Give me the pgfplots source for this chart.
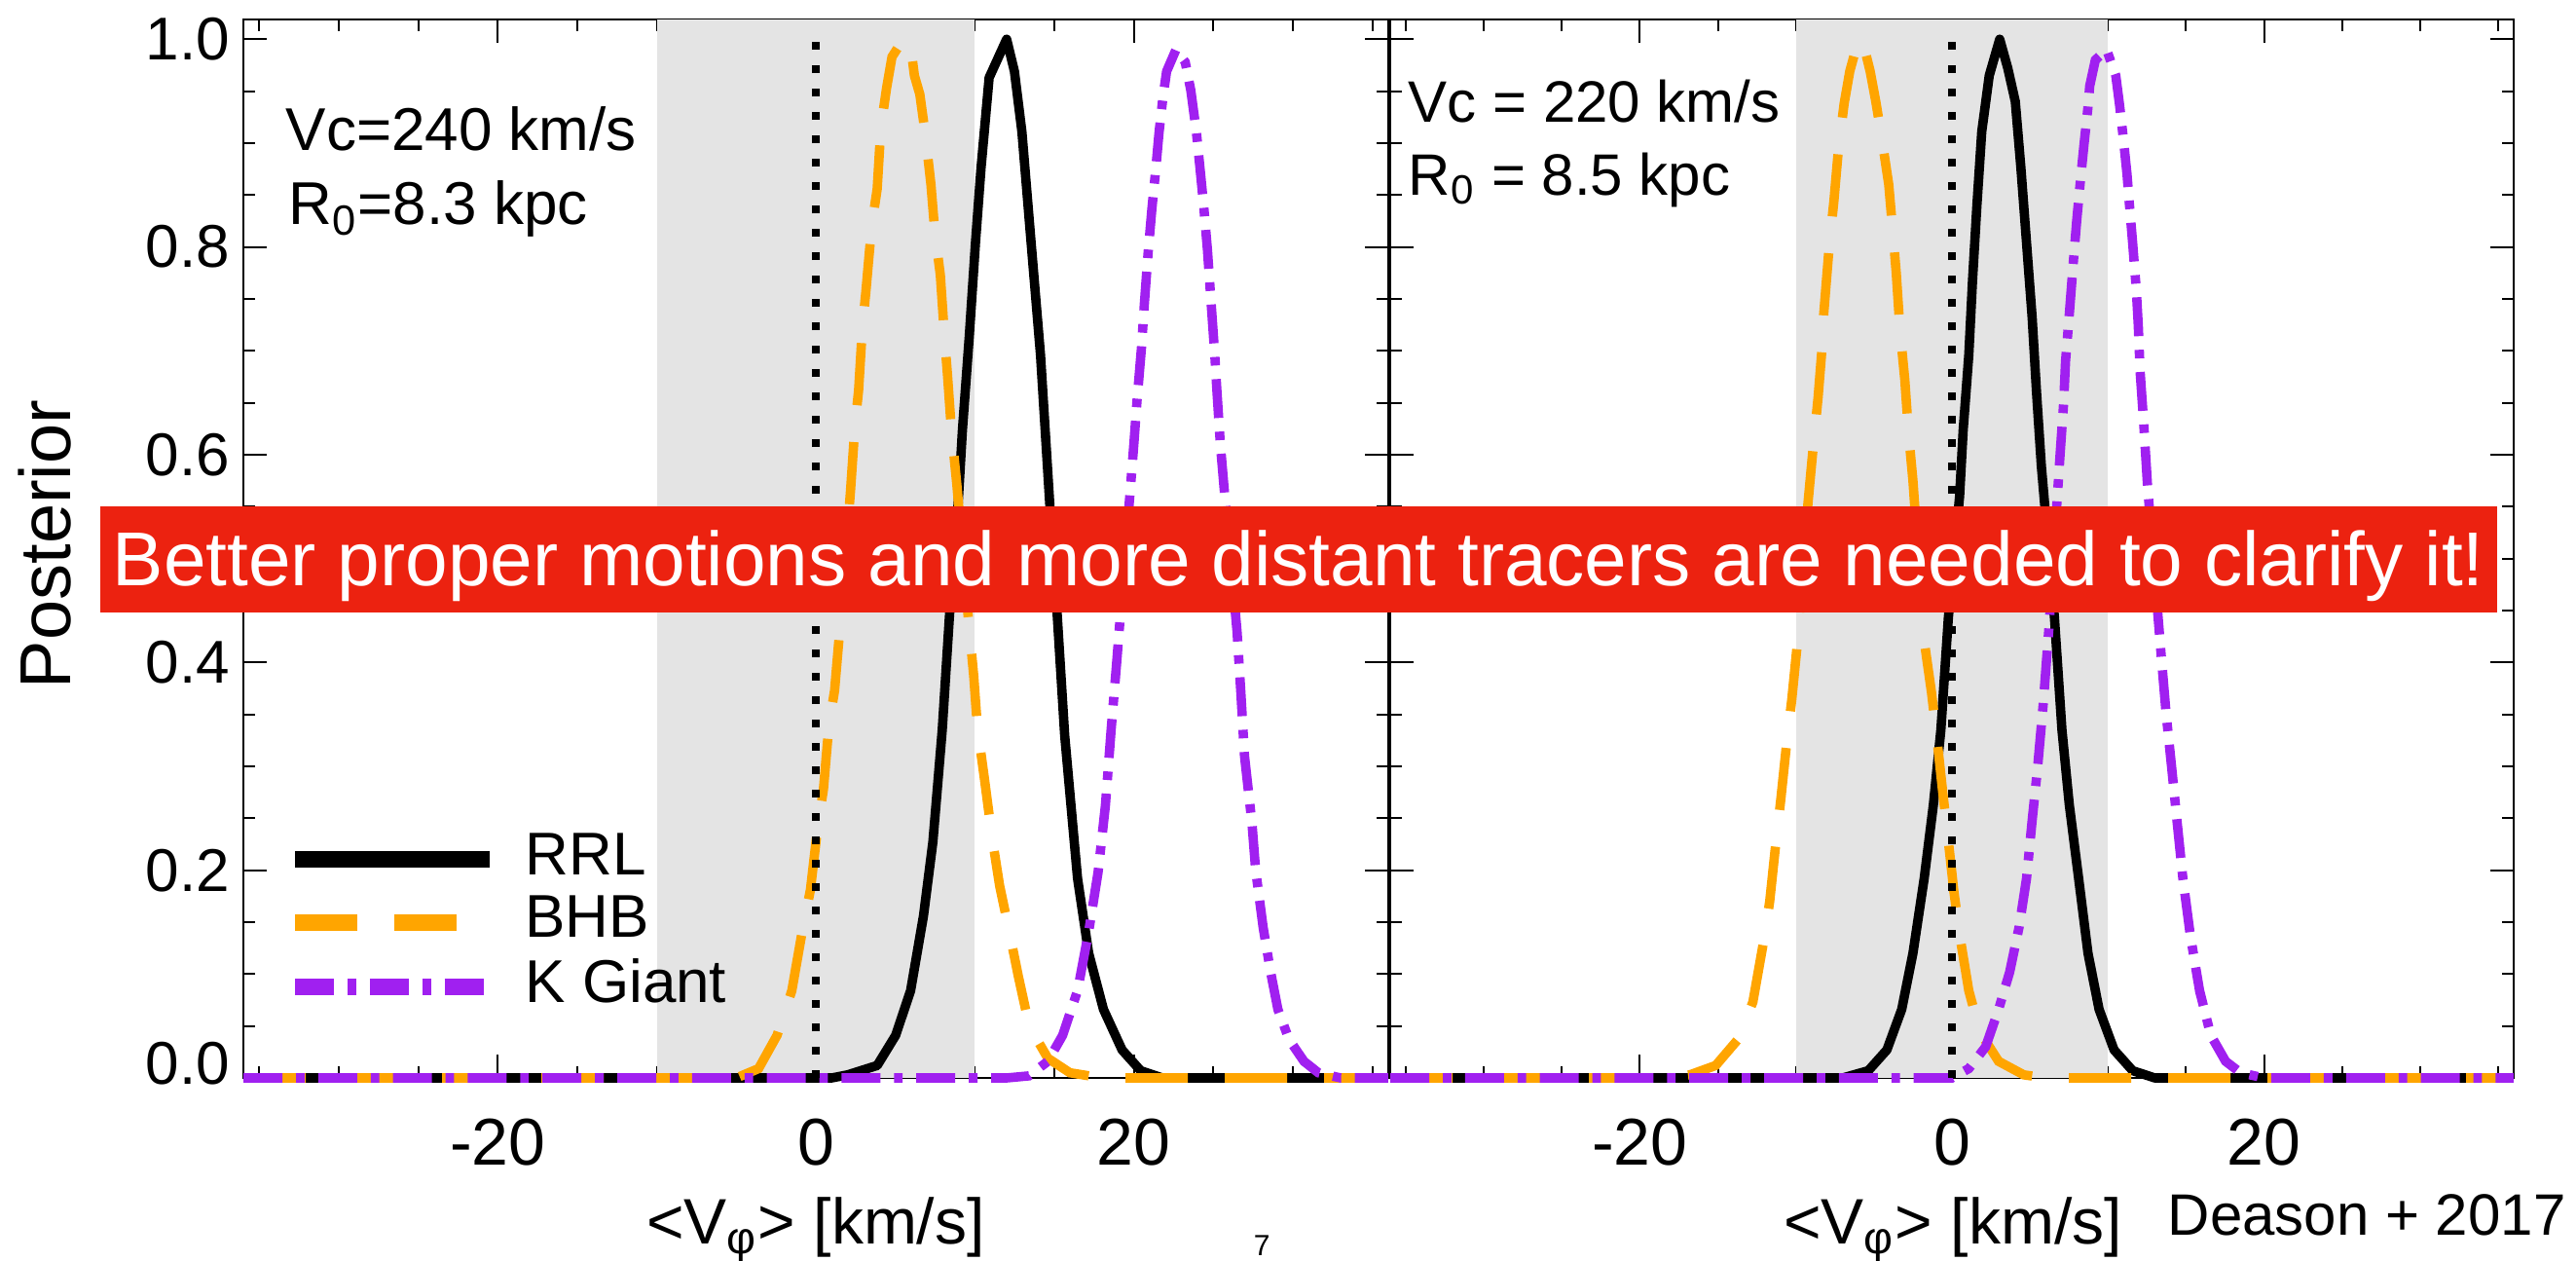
\documentclass[border=0pt]{standalone}
\usepackage{fontspec}
\setmainfont{Liberation Sans}
\usepackage{graphicx}
\usepackage{pgfplots}
\pgfplotsset{compat=1.18}
\definecolor{bhb}{RGB}{255,165,0}
\definecolor{kg}{RGB}{160,32,240}
\definecolor{band}{RGB}{228,228,228}
\definecolor{banner}{RGB}{236,34,16}

\pgfplotstableread{
v p
-36 0
1.0 0
2.0 0.003
3.86 0.012
5.02 0.041
5.96 0.084
6.77 0.156
7.36 0.227
7.95 0.335
8.41 0.446
8.95 0.553
9.22 0.624
9.65 0.714
10.04 0.804
10.39 0.876
10.9 0.963
12.0 1.0
12.49 0.969
12.96 0.911
13.54 0.804
14.13 0.696
14.71 0.553
15.18 0.446
15.65 0.330
16.46 0.192
17.16 0.12
18.09 0.066
19.26 0.027
20.43 0.007
21.8 0
36 0
}\rrlA
\pgfplotstableread{
v p
-36 0
-5 0
-3.6 0.009
-2.44 0.041
-1.51 0.084
-0.81 0.145
-0.34 0.181
0.12 0.242
0.48 0.278
0.82 0.339
1.18 0.373
1.52 0.434
2.18 0.565
2.46 0.628
2.69 0.662
2.93 0.723
3.16 0.759
3.51 0.82
3.86 0.856
4.09 0.915
4.45 0.953
4.79 0.983
5.5 1.0
5.95 0.995
6.2 0.965
6.54 0.947
6.89 0.908
7.24 0.86
7.48 0.815
7.83 0.773
8.1 0.712
8.29 0.675
8.52 0.625
8.87 0.571
9.57 0.446
9.93 0.387
10.16 0.338
10.63 0.285
11.09 0.231
11.56 0.185
12.26 0.134
12.72 0.099
13.42 0.050
14.59 0.019
15.98 0.005
18 0
36 0
}\bhbA
\pgfplotstableread{
v p
-36 0
12 0
13.4 0.002
14.59 0.016
15.52 0.041
16.46 0.084
17.16 0.141
17.75 0.198
18.21 0.262
18.57 0.335
18.92 0.400
19.15 0.445
19.78 0.567
20.01 0.612
20.2 0.652
20.48 0.703
20.66 0.745
20.9 0.795
21.13 0.836
21.36 0.872
21.59 0.911
21.83 0.944
22.06 0.969
22.65 0.99
23.23 0.978
23.58 0.951
23.93 0.911
24.16 0.876
24.39 0.84
24.63 0.797
24.86 0.746
25.09 0.696
25.21 0.665
25.44 0.610
25.68 0.567
26.49 0.430
26.73 0.371
26.96 0.310
27.43 0.245
27.66 0.200
28.13 0.145
28.6 0.102
29.06 0.066
29.76 0.037
30.7 0.016
31.6 0.005
33 0
36 0
}\kgA
\pgfplotstableread{
v p
-36 0
-7 0
-5.36 0.007
-4.17 0.027
-3.22 0.066
-2.5 0.12
-1.78 0.192
-1.19 0.263
-0.71 0.335
-0.23 0.443
0.49 0.56
0.72 0.624
1.08 0.696
1.32 0.768
1.6 0.84
1.91 0.911
2.39 0.965
3.06 1.0
3.58 0.972
4.06 0.94
4.42 0.876
4.78 0.804
5.14 0.732
5.42 0.66
5.73 0.589
6.57 0.443
7.05 0.335
7.52 0.263
8.12 0.192
8.72 0.12
9.43 0.066
10.39 0.027
11.58 0.007
13 0
36 0
}\rrlB
\pgfplotstableread{
v p
-36 0
-18.5 0
-16.8 0.003
-15.14 0.012
-13.72 0.037
-12.76 0.073
-12.04 0.134
-11.68 0.17
-11.33 0.220
-10.97 0.268
-10.61 0.320
-10.26 0.365
-9.89 0.421
-9.23 0.553
-8.94 0.600
-8.58 0.655
-8.34 0.700
-8.22 0.735
-7.87 0.800
-7.56 0.845
-7.27 0.895
-6.91 0.938
-6.55 0.969
-6.08 0.995
-5.75 1.0
-5.24 0.969
-4.88 0.94
-4.53 0.908
-4.05 0.860
-3.81 0.818
-3.57 0.775
-3.33 0.720
-3.02 0.672
-2.79 0.622
-2.5 0.575
-1.78 0.421
-1.31 0.371
-0.95 0.325
-0.59 0.275
-0.23 0.228
0.12 0.180
0.49 0.138
1.08 0.084
1.8 0.044
2.99 0.016
4.6 0.003
6 0
36 0
}\bhbB
\pgfplotstableread{
v p
-36 0
0 0
1.08 0.009
2.16 0.03
2.99 0.066
3.7 0.102
4.3 0.145
4.78 0.192
5.14 0.248
5.49 0.299
5.85 0.36
6.21 0.432
6.69 0.545
6.93 0.600
7.16 0.650
7.28 0.690
7.52 0.735
7.76 0.782
8.0 0.826
8.24 0.865
8.48 0.901
8.72 0.935
8.83 0.955
9.19 0.980
9.91 0.99
10.5 0.965
10.74 0.937
10.98 0.905
11.22 0.870
11.34 0.847
11.58 0.804
11.81 0.760
11.94 0.725
12.06 0.680
12.29 0.630
12.53 0.571
13.37 0.414
13.73 0.350
14.08 0.299
14.44 0.245
14.8 0.192
15.27 0.138
15.87 0.084
16.59 0.041
17.54 0.016
18.5 0.005
20 0
36 0
}\kgB

\pgfplotsset{
  panel/.style={
    scale only axis, height=271.75pt,
    anchor=south west,
    xmin=-36, xmax=36, ymin=0, ymax=1.019,
    xtick={-20,0,20}, xticklabels={-20,0,20},
    minor xtick={-35,-30,-25,-15,-10,-5,5,10,15,25,30,35},
    ytick={0,0.2,0.4,0.6,0.8,1.0},
    minor y tick num=3,
    major tick length=6pt, minor tick length=3pt,
    tick style={black, line width=0.5pt},
    axis line style={black, line width=0.6pt},
    xticklabel style={font=\fontsize{17}{17}\selectfont, yshift=-7pt},
    yticklabel style={font=\fontsize{15.5}{15.5}\selectfont},
    clip=false,
  },
  rrl/.style={black, line width=2.4pt, line join=round},
  bhbs/.style={bhb, line width=2.4pt, dash pattern=on 16pt off 9.5pt},
  kgs/.style={kg, line width=2.4pt, dash pattern=on 10pt off 3.5pt on 2.2pt off 3.5pt},
  zeroline/.style={black, line width=2pt, dash pattern=on 2pt off 4pt},
}

\begin{document}
\begin{tikzpicture}
\path[use as bounding box] (0pt,0pt) rectangle (661.5pt,-323.75pt);

\begin{axis}[panel, at={(62.5pt,-276.75pt)}, width=294pt,
  yticklabels={\raisebox{7.5pt}{0.0},0.2,0.4,0.6,0.8,1.0},
  legend style={at={(rel axis cs:0.038,0.2313)}, anchor=north west,
    draw=none, fill=none, inner sep=0pt, outer sep=0pt, row sep=4pt,
    column sep=7pt, nodes={inner sep=0pt, outer sep=0pt},
    font=\fontsize{15.5}{15.5}\selectfont},
  legend cell align=left,
  legend image code/.code={\draw[#1, line width=4.2pt] (0pt,-0.7pt) -- (50pt,-0.7pt);},
]
\addplot[fill=band, draw=none, forget plot] coordinates {(-10,1.019) (10,1.019)} \closedcycle;
\addplot[rrl] table[x=v,y=p] {\rrlA};
\addplot[bhbs] table[x=v,y=p] {\bhbA};
\addplot[kgs] table[x=v,y=p] {\kgA};
\addplot[zeroline, forget plot] coordinates {(0,0) (0,1.0)};
\legend{RRL,BHB,K Giant}
\end{axis}

\begin{axis}[panel, at={(357pt,-276.75pt)}, width=288.5pt,
  yticklabels={}]
\addplot[fill=band, draw=none] coordinates {(-10,1.019) (10,1.019)} \closedcycle;
\addplot[rrl] table[x=v,y=p] {\rrlB};
\addplot[bhbs] table[x=v,y=p] {\bhbB};
\addplot[kgs] table[x=v,y=p] {\kgB};
\addplot[zeroline] coordinates {(0,0) (0,1.0)};
\end{axis}

\node[anchor=base west, inner sep=0pt, font=\fontsize{15.5}{18}\selectfont] at (73.25pt,-38.5pt) {Vc=240 km/s};
\node[anchor=base west, inner sep=0pt, font=\fontsize{15.5}{18}\selectfont] at (74pt,-57.7pt) {R\textsubscript{0}=8.3 kpc};
\node[anchor=base west, inner sep=0pt, font=\fontsize{15}{18}\selectfont] at (361.5pt,-31.25pt) {Vc = 220 km/s};
\node[anchor=base west, inner sep=0pt, font=\fontsize{15}{18}\selectfont] at (361.5pt,-50pt) {R\textsubscript{0} = 8.5 kpc};

\node[anchor=base, inner sep=0pt, font=\fontsize{16.5}{18}\selectfont] at (209.5pt,-319.25pt) {<V\textsubscript{φ}> [km/s]};
\node[anchor=base, inner sep=0pt, font=\fontsize{16.5}{18}\selectfont] at (501.5pt,-319.25pt) {<V\textsubscript{φ}> [km/s]};
\node[rotate=90, anchor=base, inner sep=0pt, font=\fontsize{18.5}{20}\selectfont] at (18pt,-139.75pt) {Posterior};
\node[anchor=base west, inner sep=0pt, font=\fontsize{15}{18}\selectfont] at (556.5pt,-317pt) {Deason + 2017};
\node[anchor=north west, inner sep=0pt, font=\fontsize{7.5}{8}\selectfont] at (321.75pt,-317pt) {7};

\fill[banner] (25.75pt,-130pt) rectangle (641.25pt,-157.25pt);
\node[anchor=base, inner sep=0pt, text=white] at (333.5pt,-150.4pt) {\resizebox{609pt}{!}{\fontsize{19.6}{20}\selectfont Better proper motions and more distant tracers are needed to clarify it!}};
\end{tikzpicture}
\end{document}
